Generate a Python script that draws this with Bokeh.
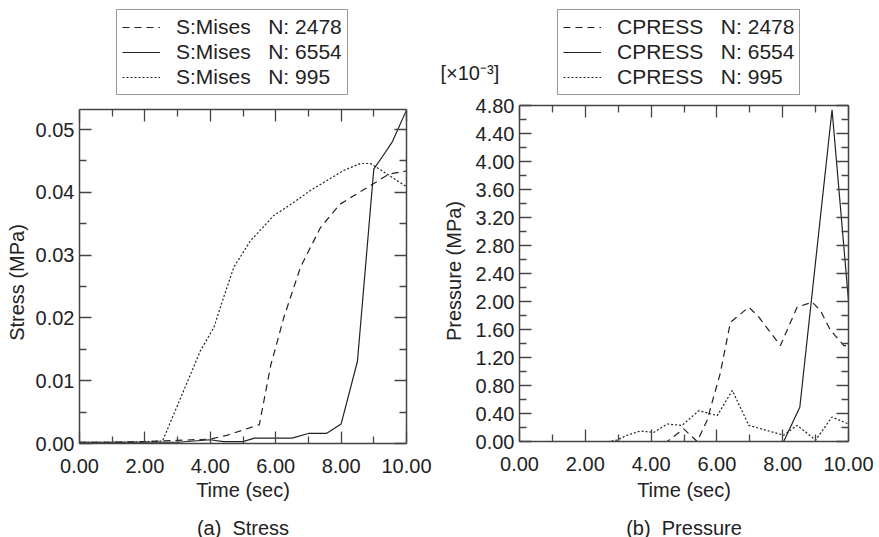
import math
from bokeh.plotting import figure
from bokeh.layouts import row
from bokeh.models import (Range1d, FixedTicker, LinearAxis, Legend, LegendItem,
                          Label, PrintfTickFormatter)
from bokeh.embed import file_html
from bokeh.resources import INLINE

# ---------------- data ----------------
# (a) Stress, S:Mises [MPa]
t_mises_2478 = [0, 1, 2, 3, 4, 4.5, 5.5, 5.85, 6.25, 6.76, 7.37, 7.96, 8.49, 9.0, 9.46, 10]
v_mises_2478 = [0.0002, 0.0002, 0.0003, 0.0005, 0.0007, 0.0013, 0.003, 0.0125, 0.0201,
                0.0281, 0.0344, 0.0381, 0.0398, 0.0414, 0.0429, 0.0434]
t_mises_6554 = [0, 1, 2, 3, 4, 4.4, 5.0, 5.35, 6.5, 7.0, 7.55, 8.0, 8.5, 9.0, 9.25, 9.56, 10]
v_mises_6554 = [0.0002, 0.0002, 0.0002, 0.0002, 0.0006, 0.0003, 0.0003, 0.00085, 0.00085,
                0.0016, 0.0016, 0.0031, 0.0131, 0.0437, 0.0456, 0.048, 0.0531]
t_mises_995 = [0, 1, 2, 2.54, 3.7, 4.11, 4.41, 4.72, 5.23, 5.94, 6.55, 7.06, 7.57, 8.08,
               8.59, 8.9, 9.41, 10]
v_mises_995 = [0.0002, 0.0002, 0.0003, 0.0004, 0.0148, 0.0185, 0.0233, 0.0281, 0.0323,
               0.0363, 0.0384, 0.0403, 0.0419, 0.0435, 0.0446, 0.0446, 0.0429, 0.0409]

# (b) Pressure, CPRESS [x1e-3 MPa]
t_cpress_2478 = [0, 4.49, 4.99, 5.4, 5.7, 6.1, 6.41, 6.97, 7.27, 7.93, 8.44, 8.9, 9.15,
                 9.45, 9.86, 10]
v_cpress_2478 = [0, 0, 0.18, 0, 0.3, 0.97, 1.70, 1.92, 1.78, 1.37, 1.92, 1.99, 1.87,
                 1.59, 1.37, 1.37]
t_cpress_6554 = [0, 8.03, 8.52, 9.5, 10]
v_cpress_6554 = [0, 0, 0.49, 4.74, 2.01]
t_cpress_995 = [0, 2.7, 2.97, 3.27, 3.68, 4.08, 4.49, 4.94, 5.45, 6.01, 6.47, 6.97, 8.03,
                8.44, 9.0, 9.5, 10]
v_cpress_995 = [0, 0, 0.02, 0.09, 0.15, 0.13, 0.25, 0.23, 0.44, 0.37, 0.73, 0.23, 0.09,
                0.23, 0.02, 0.35, 0.25]

x_major = [0, 2, 4, 6, 8, 10]
x_minor = [1, 3, 5, 7, 9]
ya_major = [0.0, 0.01, 0.02, 0.03, 0.04, 0.05]
ya_minor = [0.005, 0.015, 0.025, 0.035, 0.045]
yb_major = [0.0, 0.4, 0.8, 1.2, 1.6, 2.0, 2.4, 2.8, 3.2, 3.6, 4.0, 4.4, 4.8]
yb_minor = [0.2, 0.6, 1.0, 1.4, 1.8, 2.2, 2.6, 3.0, 3.4, 3.8, 4.2, 4.6]

XMAX = 10.0
YMAX_A = 0.0532      # top of the stress axes box
YMAX_B = 4.8         # top of the pressure axes box (x 1e-3)

FONT = "Liberation Sans"
INK = "#222222"
FRAME = "#444444"

# ---------------- layout (pixels inside each canvas) ----------------
H = 537
# canvas width, box left/right/top/bottom
GEOM = {"a": dict(w=440, l=79, r=406, t=109, b=443),
        "b": dict(w=439, l=79, r=408, t=105, b=441)}


class Mapper:
    def __init__(self, g, ymax):
        self.sx = (g["r"] - g["l"]) / XMAX
        self.sy = (g["b"] - g["t"]) / ymax
        self.g = g

    def x(self, px):
        return (px - self.g["l"]) / self.sx

    def y(self, py):
        return (self.g["b"] - py) / self.sy


def style_axis(ax, blank=None, standoff=5):
    ax.axis_line_color = FRAME
    ax.axis_line_width = 1.5
    ax.major_tick_line_color = FRAME
    ax.minor_tick_line_color = FRAME
    ax.major_tick_line_width = 1.3
    ax.minor_tick_line_width = 1.3
    ax.major_tick_in = 12
    ax.major_tick_out = 0
    ax.minor_tick_in = 7
    ax.minor_tick_out = 0
    ax.major_label_text_font = FONT
    ax.major_label_text_color = INK
    ax.major_label_text_font_size = "20px"
    ax.major_label_standoff = standoff
    if blank is None:
        ax.formatter = PrintfTickFormatter(format="%.2f")
    else:
        ax.major_label_overrides = {t: "" for t in blank}
        ax.major_label_standoff = 0


def text(p, x, y, s, size="20px", align="center", angle=0.0):
    p.add_layout(Label(x=x, y=y, text=s, text_font=FONT, text_font_size=size,
                       text_color=INK, text_align=align, text_baseline="middle",
                       angle=angle))


def make_fig(key, ymax, ymaj, ymin, series, leg_left):
    g = GEOM[key]
    m = Mapper(g, ymax)
    p = figure(width=g["w"], height=H, output_backend="svg", toolbar_location=None,
               x_range=Range1d(m.x(0), m.x(g["w"])), y_range=Range1d(m.y(H), m.y(0)),
               min_border=0)
    p.grid.visible = False
    p.outline_line_color = None
    p.background_fill_color = "white"
    p.border_fill_color = "white"
    p.xaxis.visible = False
    p.yaxis.visible = False

    xt = FixedTicker(ticks=x_major, minor_ticks=x_minor)
    yt = FixedTicker(ticks=ymaj, minor_ticks=ymin)
    bottom = LinearAxis(ticker=xt, fixed_location=0, bounds=(0, XMAX))
    style_axis(bottom, standoff=15)
    p.add_layout(bottom, "below")
    left = LinearAxis(ticker=yt, fixed_location=0, bounds=(0, ymax))
    style_axis(left, standoff=5)
    p.add_layout(left, "left")
    top = LinearAxis(ticker=xt, fixed_location=ymax, bounds=(0, XMAX))
    style_axis(top, blank=x_major)
    p.add_layout(top, "above")
    right = LinearAxis(ticker=yt, fixed_location=XMAX, bounds=(0, ymax))
    style_axis(right, blank=ymaj)
    p.add_layout(right, "right")

    items = []
    for (t, v, dash, lab) in series:
        r = p.line(t, v, line_color=INK, line_width=1.2, line_dash=dash)
        items.append(LegendItem(label=lab, renderers=[r]))
    leg = Legend(items=items, location=(leg_left, H - 95))
    leg.label_text_font = FONT
    leg.label_text_font_size = "21px"
    leg.label_text_color = INK
    leg.label_height = 22
    leg.glyph_height = 22
    leg.glyph_width = 38
    leg.label_standoff = 16
    leg.spacing = 1
    leg.padding = 5
    leg.margin = 0
    leg.border_line_color = "#333333"
    leg.border_line_width = 1.5
    leg.background_fill_alpha = 1.0
    p.add_layout(leg)
    return p, m


sp = "\u00a0\u00a0\u00a0"

p1, m1 = make_fig("a", YMAX_A, ya_major, ya_minor,
                  [(t_mises_2478, v_mises_2478, "7 5", "S:Mises" + sp + "N: 2478"),
                   (t_mises_6554, v_mises_6554, "solid", "S:Mises" + sp + "N: 6554"),
                   (t_mises_995, v_mises_995, "2 2", "S:Mises" + sp + "N: 995")],
                  116)
text(p1, m1.x(16.5), m1.y(282), "Stress (MPa)", angle=math.pi / 2)
text(p1, XMAX / 2, m1.y(489), "Time (sec)")
text(p1, XMAX / 2, m1.y(527), "(a)\u00a0\u00a0Stress")

p2, m2 = make_fig("b", YMAX_B, yb_major, yb_minor,
                  [(t_cpress_2478, v_cpress_2478, "7 5", "CPRESS" + sp + "N: 2478"),
                   (t_cpress_6554, v_cpress_6554, "solid", "CPRESS" + sp + "N: 6554"),
                   (t_cpress_995, v_cpress_995, "2 2", "CPRESS" + sp + "N: 995")],
                  117)
text(p2, m2.x(13), m2.y(270.5), "Pressure (MPa)", angle=math.pi / 2)
text(p2, m2.x(0), m2.y(72), "[\u00d710\u207b\u00b3]", size="20px", align="left")
text(p2, XMAX / 2, m2.y(489), "Time (sec)")
text(p2, XMAX / 2, m2.y(527), "(b)\u00a0\u00a0Pressure")

layout = row(p1, p2)
open("out.html", "w").write(file_html(layout, INLINE))
